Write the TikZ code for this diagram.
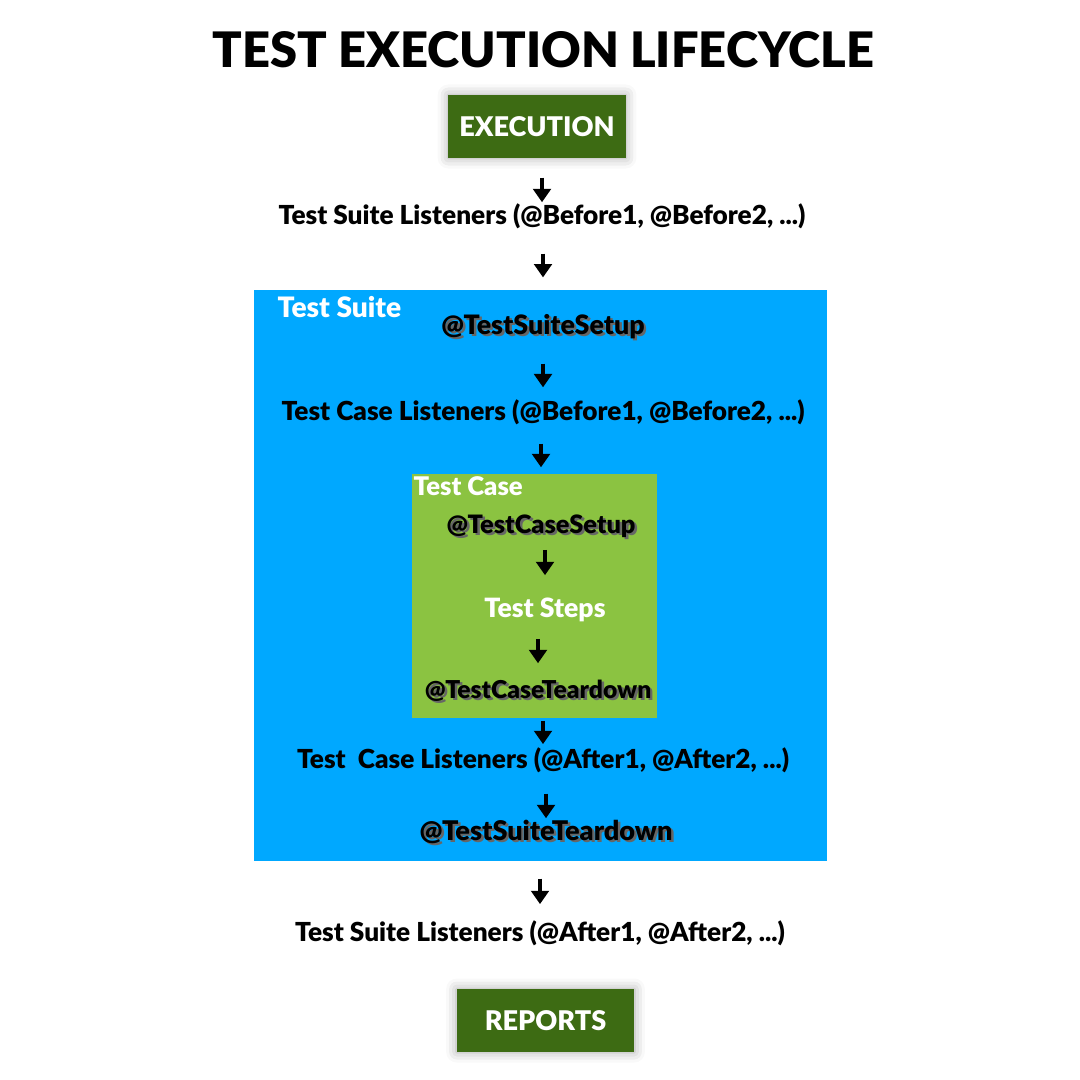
\documentclass[tikz,border=0pt]{standalone}
\usepackage{fontspec}
\setmainfont{Lato}[BoldFont={Lato Black}]
\usetikzlibrary{arrows.meta,shadows.blur}

\definecolor{phasegreen}{RGB}{61,107,19}
\definecolor{suiteblue}{RGB}{0,168,255}
\definecolor{casegreen}{RGB}{139,195,65}

\newcommand\shadowed[1]{\rlap{\kern0.7pt\raisebox{-0.7pt}{\color{black!60}#1}}#1}

\begin{document}
\begin{tikzpicture}[x=0.01cm,y=-0.01cm,
        listener/.style={inner sep=0pt,text height=6pt,text depth=2pt,font=\fontsize{7.45}{8}\selectfont\bfseries},
        hook/.style={listener,font=\fontsize{7.2}{8}\selectfont\bfseries},
        boxtitle/.style={listener,text=white,font=\fontsize{7.3}{8}\selectfont\bfseries},
        phase/.style={fill=phasegreen,text=white,inner sep=0pt,minimum width=50.5pt,minimum height=17.9pt,
                      font=\fontsize{7.7}{9}\selectfont\bfseries,
                      blur shadow={shadow xshift=0pt,shadow yshift=0pt,shadow scale=1,shadow blur radius=3pt,shadow opacity=35}},
        flow/.style={-{Triangle[width=5pt,length=3.8pt]},line width=1.4pt}]
        \useasboundingbox (0,0) rectangle (1080,1080);
        % containers
        \fill[suiteblue] (254,290) rectangle (827,861);
        \fill[casegreen] (412,474) rectangle (657,718);
        % title
        \node[font=\fontsize{13.9}{15}\selectfont\bfseries] (title) at (543.5,50) {TEST EXECUTION LIFECYCLE};
        % steps
        \node[phase] (exec) at (537,126.5) {EXECUTION};
        \node[listener] (suitebefore) at (542,217) {Test Suite Listeners (@Before1, @Before2, ...)};
        \node[boxtitle,anchor=west,font=\fontsize{8}{8}\selectfont\bfseries] (suitetitle) at (277,310) {Test Suite};
        \node[hook,font=\fontsize{7.6}{8}\selectfont\bfseries] (suitesetup) at (543,327) {\shadowed{@TestSuiteSetup}};
        \node[listener] (casebefore) at (543,413) {Test Case Listeners (@Before1, @Before2, ...)};
        \node[boxtitle,anchor=west] (casetitle) at (413,488) {Test Case};
        \node[hook] (casesetup) at (541,526) {\shadowed{@TestCaseSetup}};
        \node[boxtitle,font=\fontsize{7.55}{8}\selectfont\bfseries] (steps) at (545,610) {Test Steps};
        \node[hook,font=\fontsize{7}{8}\selectfont\bfseries] (caseteardown) at (538,691) {\shadowed{@TestCaseTeardown}};
        \node[listener] (caseafter) at (543,761) {Test~ Case Listeners (@After1, @After2, ...)};
        \node[hook,font=\fontsize{7.7}{8}\selectfont\bfseries] (suiteteardown) at (546,833) {\shadowed{@TestSuiteTeardown}};
        \node[listener] (suiteafter) at (540,934) {Test Suite Listeners (@After1, @After2, ...)};
        \node[phase] (reports) at (545.5,1020.5) {REPORTS};
        % arrows
        \draw[flow,shorten <=5.4pt] (exec.south -| suitebefore) -- (suitebefore.north);
        \draw[flow,shorten <=6.2pt,shorten >=9.9pt] (suitebefore.south -| suitesetup) -- (suitesetup.north);
        \draw[flow,shorten <=6.2pt,shorten >=3.1pt] (suitesetup.south -| casebefore) -- (casebefore.north);
        \draw[flow,shorten <=4.5pt,shorten >=12.5pt] (casebefore.south -| casesetup) -- (casesetup.north);
        \draw[flow,shorten <=2.6pt,shorten >=5.7pt] (casesetup.south -| steps) -- (steps.north);
        \draw[flow,shorten <=4pt,shorten >=3.7pt] (steps.south -| caseteardown) -- (caseteardown.north);
        \draw[flow,shorten <=4.3pt,shorten >=0.6pt] (caseteardown.south -| caseafter) -- (caseafter.north);
        \draw[flow,shorten <=5.1pt] (caseafter.south -| suiteteardown) -- (suiteteardown.north);
        \draw[flow,shorten <=8.8pt,shorten >=4.3pt] (suiteteardown.south -| suiteafter) -- (suiteafter.north);
\end{tikzpicture}
\end{document}
